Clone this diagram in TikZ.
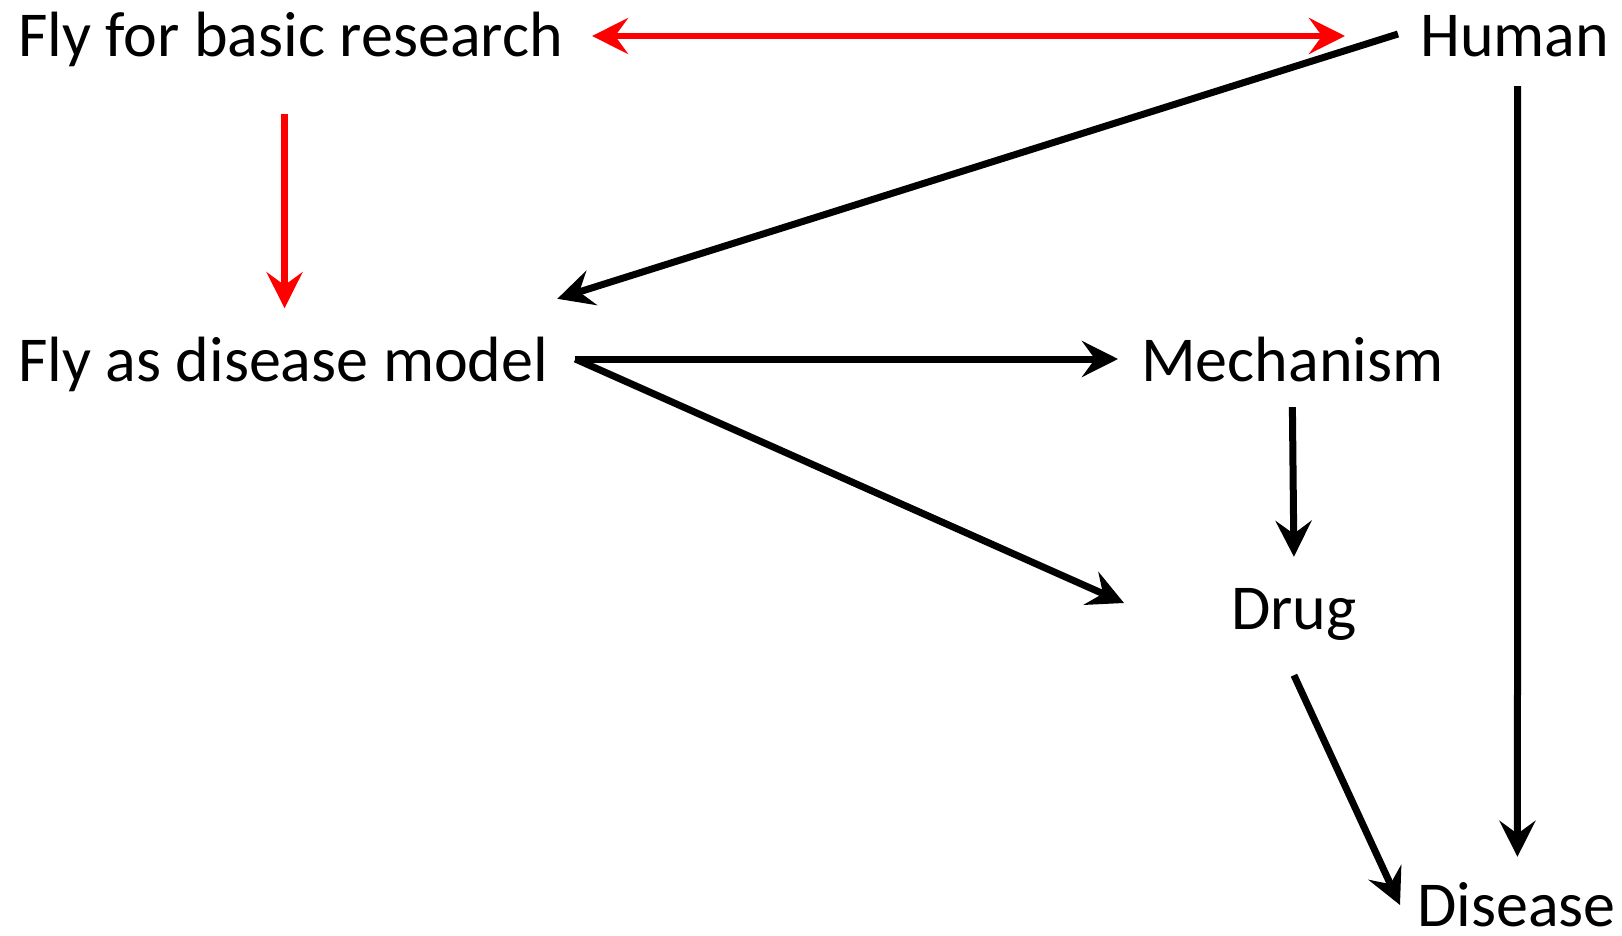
\documentclass[tikz,border=0pt]{standalone}
\usepackage{fontspec}
\setmainfont{Carlito}
\usetikzlibrary{arrows.meta,calc}
\begin{document}
\begin{tikzpicture}[x=1pt,y=-1pt,
  lbl/.style={font=\fontsize{64}{64}\selectfont, inner sep=0pt, text height=48pt, text depth=6pt},
  blk/.style={line width=7pt, -{Stealth[length=36pt,width=36pt,inset=13pt]}},
  redarr/.style={line width=6.5pt, red, -{Stealth[length=36pt,width=36pt,inset=13pt]}},
  redboth/.style={line width=6.5pt, red, {Stealth[length=36pt,width=36pt,inset=13pt]}-{Stealth[length=36pt,width=36pt,inset=13pt]}}]
\useasboundingbox (0,0) rectangle (1622,936);
\node[lbl, anchor=base west] (fbr) at (18,57) {Fly for basic research};
\node[lbl, anchor=base west] (human) at (1420,57) {Human};
\node[lbl, anchor=base west] (model) at (18,381) {Fly as disease model};
\node[lbl, anchor=base west] (mech) at (1141,381) {Mechanism};
\node[lbl, anchor=base west] (drug) at (1231,629) {Drug};
\node[lbl, anchor=base west] (dis) at (1417,926) {Disease};

\draw[redboth] ($(fbr.east)+(29,0)$) -- ($(human.west)+(-75,0)$);
\draw[redarr] ($(fbr.south)+(-6,51)$) -- ($(fbr.south)+(-6,245)$);
\draw[blk] ($(human.west)+(-22,-2)$) -- ($(model.north east)+(9,-34)$);
\draw[blk] ($(human.south)+(3,23)$) -- ($(dis.north)+(1,-21)$);
\draw[blk] ($(model.east)+(27,-1)$) -- ($(mech.west)+(-23,-1)$);
\draw[blk] ($(model.east)+(27,-1)$) -- ($(drug.west)+(-107,-5)$);
\draw[blk] ($(mech.south)+(0,20)$) -- ($(drug.north)+(0,-24)$);
\draw[blk] ($(drug.south)+(0,40)$) -- ($(dis.west)+(-17,0)$);
\end{tikzpicture}
\end{document}
